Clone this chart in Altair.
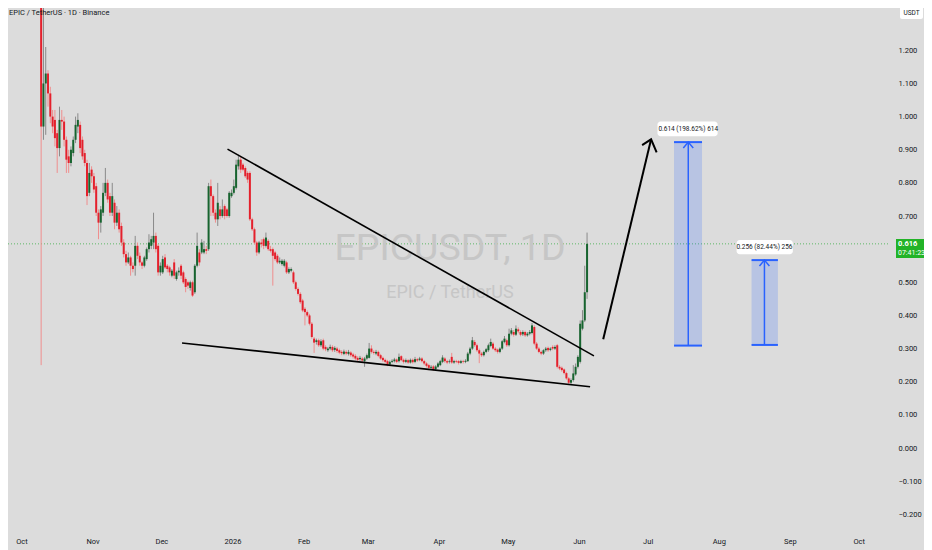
import pandas as pd
import altair as alt

# EPIC / TetherUS, 1D candles (Binance)
FIRST_DAY = "2025-10-09 14:00"

OPEN = [
    1.50, 0.97, 1.10, 1.13, 1.07, 1.00, 0.99, 0.95, 0.905, 0.99,
    0.985, 0.93, 0.88, 0.86, 0.89, 0.93, 0.97, 0.975, 0.93, 0.89,
    0.86, 0.77, 0.84, 0.82, 0.79, 0.71, 0.68, 0.71, 0.77, 0.80,
    0.76, 0.71, 0.74, 0.68, 0.71, 0.67, 0.62, 0.585, 0.56, 0.575,
    0.55, 0.55, 0.61, 0.58, 0.56, 0.55, 0.57, 0.60, 0.61, 0.62,
    0.64, 0.61, 0.53, 0.53, 0.575, 0.55, 0.545, 0.52, 0.56, 0.51,
    0.53, 0.55, 0.53, 0.51, 0.50, 0.483, 0.50, 0.47, 0.55, 0.59,
    0.59, 0.59, 0.60, 0.60, 0.79, 0.76, 0.71, 0.69, 0.72, 0.70,
    0.73, 0.72, 0.70, 0.76, 0.77, 0.785, 0.85, 0.87, 0.855, 0.845,
    0.83, 0.83, 0.69, 0.66, 0.62, 0.59, 0.62, 0.63, 0.61, 0.625,
    0.60, 0.60, 0.59, 0.58, 0.56, 0.555, 0.55, 0.56, 0.53, 0.535,
    0.53, 0.50, 0.48, 0.465, 0.445, 0.42, 0.41, 0.40, 0.375, 0.33,
    0.32, 0.325, 0.31, 0.325, 0.305, 0.295, 0.30, 0.305, 0.296, 0.30,
    0.295, 0.29, 0.284, 0.29, 0.284, 0.288, 0.282, 0.278, 0.272, 0.268,
    0.27, 0.262, 0.27, 0.272, 0.30, 0.29, 0.285, 0.29, 0.28, 0.272,
    0.266, 0.262, 0.252, 0.26, 0.262, 0.267, 0.262, 0.277, 0.266, 0.26,
    0.265, 0.258, 0.266, 0.26, 0.268, 0.266, 0.27, 0.262, 0.255, 0.25,
    0.242, 0.246, 0.238, 0.245, 0.25, 0.26, 0.27, 0.262, 0.26, 0.275,
    0.258, 0.262, 0.262, 0.257, 0.262, 0.26, 0.262, 0.285, 0.30, 0.32,
    0.31, 0.295, 0.285, 0.28, 0.29, 0.295, 0.308, 0.315, 0.30, 0.297,
    0.29, 0.30, 0.32, 0.325, 0.31, 0.345, 0.35, 0.342, 0.358, 0.35,
    0.343, 0.35, 0.34, 0.345, 0.347, 0.365, 0.315, 0.30, 0.29, 0.285,
    0.295, 0.302, 0.296, 0.305, 0.30, 0.31, 0.245, 0.242, 0.237, 0.226,
    0.21, 0.197, 0.205, 0.222, 0.245, 0.26, 0.36, 0.385, 0.47,
]
HIGH = [
    1.60, 1.40, 1.21, 1.14, 1.09, 1.02, 1.02, 0.96, 1.03, 1.02,
    1.00, 0.94, 0.90, 0.91, 0.94, 1.00, 1.01, 0.985, 0.94, 0.90,
    0.87, 0.86, 0.85, 0.83, 0.80, 0.72, 0.73, 0.80, 0.845, 0.81,
    0.77, 0.80, 0.75, 0.73, 0.72, 0.68, 0.63, 0.595, 0.59, 0.58,
    0.56, 0.64, 0.62, 0.59, 0.565, 0.58, 0.605, 0.645, 0.64, 0.71,
    0.65, 0.615, 0.56, 0.58, 0.585, 0.555, 0.55, 0.54, 0.57, 0.535,
    0.545, 0.555, 0.535, 0.515, 0.505, 0.505, 0.505, 0.555, 0.65, 0.60,
    0.63, 0.625, 0.61, 0.80, 0.81, 0.765, 0.72, 0.80, 0.73, 0.75,
    0.735, 0.725, 0.775, 0.78, 0.81, 0.87, 0.885, 0.88, 0.86, 0.85,
    0.835, 0.835, 0.695, 0.665, 0.625, 0.625, 0.63, 0.635, 0.65, 0.63,
    0.61, 0.605, 0.595, 0.585, 0.575, 0.57, 0.57, 0.565, 0.545, 0.545,
    0.535, 0.505, 0.485, 0.47, 0.45, 0.425, 0.415, 0.405, 0.38, 0.335,
    0.33, 0.33, 0.328, 0.33, 0.31, 0.305, 0.312, 0.31, 0.307, 0.305,
    0.30, 0.295, 0.297, 0.295, 0.296, 0.292, 0.287, 0.283, 0.277, 0.278,
    0.275, 0.275, 0.285, 0.317, 0.31, 0.295, 0.296, 0.294, 0.284, 0.276,
    0.27, 0.266, 0.264, 0.268, 0.272, 0.27, 0.285, 0.28, 0.27, 0.27,
    0.268, 0.27, 0.27, 0.275, 0.272, 0.275, 0.274, 0.266, 0.259, 0.254,
    0.25, 0.25, 0.25, 0.259, 0.266, 0.28, 0.274, 0.266, 0.267, 0.287,
    0.266, 0.266, 0.265, 0.266, 0.266, 0.268, 0.29, 0.305, 0.335, 0.326,
    0.315, 0.30, 0.29, 0.294, 0.302, 0.315, 0.33, 0.32, 0.305, 0.30,
    0.304, 0.326, 0.338, 0.33, 0.36, 0.362, 0.356, 0.37, 0.364, 0.355,
    0.355, 0.354, 0.35, 0.356, 0.377, 0.37, 0.32, 0.305, 0.294, 0.298,
    0.305, 0.306, 0.304, 0.31, 0.31, 0.314, 0.25, 0.246, 0.24, 0.23,
    0.214, 0.21, 0.25, 0.255, 0.28, 0.385, 0.416, 0.55, 0.65,
]
LOW = [
    0.25, 0.93, 0.945, 1.03, 0.98, 0.95, 0.91, 0.83, 0.88, 0.96,
    0.91, 0.83, 0.83, 0.85, 0.88, 0.92, 0.95, 0.89, 0.87, 0.85,
    0.733, 0.76, 0.80, 0.77, 0.70, 0.63, 0.65, 0.70, 0.76, 0.74,
    0.70, 0.70, 0.66, 0.67, 0.65, 0.61, 0.575, 0.55, 0.555, 0.52,
    0.53, 0.52, 0.57, 0.55, 0.54, 0.545, 0.565, 0.59, 0.60, 0.60,
    0.59, 0.52, 0.52, 0.525, 0.54, 0.53, 0.52, 0.515, 0.51, 0.505,
    0.52, 0.51, 0.495, 0.47, 0.48, 0.475, 0.456, 0.465, 0.545, 0.55,
    0.585, 0.585, 0.585, 0.595, 0.70, 0.70, 0.68, 0.67, 0.69, 0.695,
    0.69, 0.695, 0.695, 0.755, 0.765, 0.78, 0.84, 0.83, 0.835, 0.815,
    0.80, 0.685, 0.655, 0.615, 0.58, 0.585, 0.605, 0.60, 0.605, 0.595,
    0.59, 0.49, 0.565, 0.555, 0.555, 0.55, 0.545, 0.525, 0.525, 0.53,
    0.495, 0.475, 0.46, 0.435, 0.41, 0.37, 0.395, 0.37, 0.33, 0.287,
    0.312, 0.305, 0.305, 0.295, 0.292, 0.29, 0.295, 0.29, 0.29, 0.287,
    0.283, 0.28, 0.28, 0.28, 0.279, 0.275, 0.27, 0.265, 0.262, 0.263,
    0.258, 0.245, 0.266, 0.27, 0.285, 0.282, 0.28, 0.274, 0.266, 0.26,
    0.255, 0.247, 0.248, 0.256, 0.258, 0.256, 0.258, 0.262, 0.255, 0.256,
    0.254, 0.255, 0.255, 0.256, 0.26, 0.262, 0.258, 0.25, 0.243, 0.235,
    0.238, 0.233, 0.234, 0.241, 0.247, 0.256, 0.257, 0.253, 0.255, 0.254,
    0.254, 0.256, 0.252, 0.254, 0.255, 0.256, 0.26, 0.28, 0.296, 0.305,
    0.29, 0.256, 0.275, 0.276, 0.286, 0.29, 0.304, 0.296, 0.29, 0.285,
    0.286, 0.296, 0.316, 0.305, 0.306, 0.34, 0.336, 0.338, 0.346, 0.337,
    0.338, 0.335, 0.336, 0.34, 0.343, 0.31, 0.296, 0.286, 0.28, 0.281,
    0.29, 0.29, 0.292, 0.295, 0.296, 0.24, 0.235, 0.23, 0.222, 0.206,
    0.19, 0.19, 0.20, 0.218, 0.24, 0.255, 0.355, 0.38, 0.45,
]
CLOSE = [
    0.97, 1.10, 1.13, 1.07, 1.00, 0.97, 0.935, 0.905, 0.99, 0.985,
    0.93, 0.87, 0.86, 0.90, 0.93, 0.975, 0.99, 0.905, 0.88, 0.86,
    0.76, 0.83, 0.82, 0.78, 0.71, 0.68, 0.72, 0.77, 0.80, 0.75,
    0.71, 0.76, 0.68, 0.71, 0.66, 0.62, 0.585, 0.56, 0.575, 0.55,
    0.54, 0.61, 0.58, 0.56, 0.55, 0.575, 0.60, 0.62, 0.63, 0.64,
    0.60, 0.53, 0.55, 0.57, 0.545, 0.54, 0.53, 0.535, 0.52, 0.53,
    0.535, 0.52, 0.50, 0.486, 0.49, 0.50, 0.46, 0.55, 0.61, 0.56,
    0.62, 0.60, 0.595, 0.79, 0.76, 0.71, 0.69, 0.74, 0.70, 0.72,
    0.70, 0.70, 0.77, 0.77, 0.79, 0.855, 0.87, 0.84, 0.84, 0.82,
    0.81, 0.69, 0.66, 0.62, 0.59, 0.62, 0.615, 0.61, 0.635, 0.60,
    0.595, 0.58, 0.57, 0.56, 0.565, 0.565, 0.565, 0.53, 0.54, 0.54,
    0.50, 0.48, 0.465, 0.44, 0.415, 0.41, 0.40, 0.375, 0.335, 0.318,
    0.325, 0.31, 0.322, 0.30, 0.298, 0.30, 0.305, 0.295, 0.302, 0.293,
    0.288, 0.286, 0.291, 0.285, 0.29, 0.28, 0.276, 0.27, 0.266, 0.272,
    0.264, 0.27, 0.28, 0.30, 0.29, 0.287, 0.29, 0.278, 0.27, 0.265,
    0.26, 0.252, 0.26, 0.263, 0.267, 0.26, 0.275, 0.265, 0.26, 0.265,
    0.258, 0.266, 0.259, 0.268, 0.264, 0.27, 0.262, 0.255, 0.248, 0.242,
    0.245, 0.238, 0.246, 0.255, 0.262, 0.273, 0.262, 0.258, 0.262, 0.258,
    0.262, 0.26, 0.257, 0.262, 0.26, 0.263, 0.285, 0.30, 0.325, 0.31,
    0.295, 0.285, 0.28, 0.29, 0.298, 0.31, 0.32, 0.30, 0.295, 0.29,
    0.30, 0.322, 0.33, 0.31, 0.345, 0.355, 0.342, 0.36, 0.352, 0.342,
    0.35, 0.34, 0.345, 0.35, 0.37, 0.315, 0.30, 0.29, 0.285, 0.295,
    0.30, 0.295, 0.30, 0.30, 0.305, 0.245, 0.24, 0.235, 0.226, 0.21,
    0.197, 0.205, 0.225, 0.245, 0.275, 0.375, 0.385, 0.47, 0.616,
]

LAST_PRICE = 0.616
LAST_PRICE_TEXT = "0.616"
COUNTDOWN = "07:41:23"

MONTH_TICKS = [
    "2025-10-01", "2025-11-01", "2025-12-01", "2026-01-01", "2026-02-01",
    "2026-03-01", "2026-04-01", "2026-05-01", "2026-06-01", "2026-07-01",
    "2026-08-01", "2026-09-01", "2026-10-01",
]
PRICE_TICKS = [-0.2, -0.1, 0.0, 0.1, 0.2, 0.3, 0.4, 0.5, 0.7, 0.8, 0.9, 1.0, 1.1, 1.2]

# falling wedge drawn over the candles
WEDGE_NAME = ["upper", "upper", "lower", "lower"]
WEDGE_T = ["2025-12-29 20:00", "2026-06-07 14:00", "2025-12-10 00:00", "2026-06-05 22:00"]
WEDGE_P = [0.902, 0.278, 0.317, 0.185]

# breakout arrow
ARROW_PART = ["shaft", "shaft", "head", "head", "head"]
ARROW_T = ["2026-06-11 15:00", "2026-07-02 12:00", "2026-06-28 14:00", "2026-07-02 12:00", "2026-07-04 22:00"]
ARROW_P = [0.328, 0.9315, 0.914, 0.9315, 0.892]

# price range projections
PROJ_START = ["2026-07-12 12:00", "2026-08-15 07:00"]
PROJ_END = ["2026-07-24 17:00", "2026-08-26 19:00"]
PROJ_MID = ["2026-07-18 17:00", "2026-08-20 22:00"]
PROJ_LOW = [0.309, 0.311]
PROJ_HIGH = [0.923, 0.567]
PROJ_LABEL = ["0.614 (198.62%) 614", "0.256 (82.44%) 256"]
LABEL_T0 = ["2026-07-05 07:00", "2026-08-08 19:00"]
LABEL_T1 = ["2026-07-31 12:00", "2026-09-02 07:00"]
LABEL_LOW = [0.941, 0.585]
LABEL_HIGH = [0.985, 0.628]
LABEL_MID = [0.963, 0.6065]
# arrow heads on top of the projection ranges
HEAD_ID = [0, 0, 0, 1, 1, 1]
HEAD_T = ["2026-07-16 13:00", "2026-07-18 17:00", "2026-07-20 21:00",
          "2026-08-18 18:00", "2026-08-20 22:00", "2026-08-23 02:00"]
HEAD_P = [0.905, 0.923, 0.905, 0.549, 0.567, 0.549]

BG = "#dcdcdc"
UP, DOWN = "#17642f", "#e4202c"
WICK_UP, WICK_DOWN = "#8a8a8a", "#ef8e8e"
BLUE = "#2962ff"
INK = "#131722"
FONT = "Roboto"


def ms(s):
    return int(pd.Timestamp(s, tz="UTC").value // 10**6)


times = pd.date_range(FIRST_DAY, periods=len(CLOSE), freq="D", tz="UTC").asi8 // 10**6
candles = pd.DataFrame({
    "t": times, "open": OPEN, "high": HIGH, "low": LOW, "close": CLOSE,
})
candles["dir"] = ["up" if c >= o else "down" for o, c in zip(OPEN, CLOSE)]

wedge = pd.DataFrame({"name": WEDGE_NAME, "t": [ms(s) for s in WEDGE_T], "p": WEDGE_P,
                      "seq": list(range(len(WEDGE_P)))})
arrow = pd.DataFrame({"part": ARROW_PART, "t": [ms(s) for s in ARROW_T], "p": ARROW_P,
                      "seq": list(range(len(ARROW_P)))})
proj = pd.DataFrame({
    "t0": [ms(s) for s in PROJ_START], "t1": [ms(s) for s in PROJ_END],
    "tm": [ms(s) for s in PROJ_MID], "lo": PROJ_LOW, "hi": PROJ_HIGH,
    "label": PROJ_LABEL, "lt0": [ms(s) for s in LABEL_T0], "lt1": [ms(s) for s in LABEL_T1],
    "llo": LABEL_LOW, "lhi": LABEL_HIGH, "lmid": LABEL_MID,
})
heads = pd.DataFrame({"id": HEAD_ID, "t": [ms(s) for s in HEAD_T], "p": HEAD_P,
                      "seq": list(range(len(HEAD_P)))})

XS = alt.Scale(type="utc", domain=[ms("2025-09-27 07:30"), ms("2026-10-11 14:30")], nice=False)
YS = alt.Scale(domain=[-0.2414, 1.3277], nice=False, zero=False)
XAX = alt.Axis(
    values=[ms(m) for m in MONTH_TICKS],
    labelExpr="utcFormat(datum.value, '%m') == '01' ? utcFormat(datum.value, '%Y') : utcFormat(datum.value, '%b')",
    grid=False, ticks=False, domain=False, title=None,
    labelPadding=9, labelFontSize=7.5, labelColor=INK, labelFont=FONT,
    labelFlush=False, labelOverlap=False,
)
YAX = alt.Axis(
    orient="right", values=PRICE_TICKS, format=".3f",
    grid=False, ticks=False, domain=False, title=None,
    labelAlign="left", labelBaseline="middle", labelPadding=10,
    labelFontSize=7.5, labelColor=INK, labelFont=FONT,
    labelFlush=False, labelOverlap=False,
)


def X(field):
    return alt.X(field, type="temporal", scale=XS, axis=XAX)


def Y(field):
    return alt.Y(field, type="quantitative", scale=YS, axis=YAX)


price_line = alt.Chart(pd.DataFrame({"p": [LAST_PRICE]})).mark_rule(
    color="#3fae49", strokeDash=[1, 2], strokeWidth=1, opacity=0.8
).encode(y=Y("p"))

watermark = alt.Chart(pd.DataFrame({"a": ["EPICUSDT, 1D"], "b": ["EPIC / TetherUS"]}))
wm_big = watermark.mark_text(font=FONT, fontSize=37.5, color="#c6c6c6", baseline="alphabetic").encode(
    text="a:N", x=alt.value(442), y=alt.value(252))
wm_small = watermark.mark_text(font=FONT, fontSize=18, color="#c6c6c6", baseline="alphabetic").encode(
    text="b:N", x=alt.value(442), y=alt.value(290))

# wicks and bodies get their own colour scales (resolved independently below)
wicks = alt.Chart(candles).mark_rule(strokeWidth=1, clip=True).encode(
    x=X("t"), y=Y("low"), y2="high",
    color=alt.Color("dir:N", scale=alt.Scale(domain=["up", "down"], range=[WICK_UP, WICK_DOWN]), legend=None))
bodies = alt.Chart(candles).mark_bar(size=2, clip=True).encode(
    x=X("t"), y=Y("open"), y2="close",
    color=alt.Color("dir:N", scale=alt.Scale(domain=["up", "down"], range=[UP, DOWN]), legend=None))

wedge_lines = alt.Chart(wedge).mark_line(color="#000000", strokeWidth=1.6).encode(
    x=X("t"), y=Y("p"), detail="name:N", order="seq:Q")
arrow_lines = alt.Chart(arrow).mark_line(color="#000000", strokeWidth=2).encode(
    x=X("t"), y=Y("p"), detail="part:N", order="seq:Q")

proj_base = alt.Chart(proj)
proj_fill = proj_base.mark_rect(color=BLUE, opacity=0.2).encode(
    x=X("t0"), x2="t1", y=Y("lo"), y2="hi")
proj_top = proj_base.mark_rule(color=BLUE, strokeWidth=2).encode(x=X("t0"), x2="t1", y=Y("hi"))
proj_bottom = proj_base.mark_rule(color=BLUE, strokeWidth=2).encode(x=X("t0"), x2="t1", y=Y("lo"))
proj_mid = proj_base.mark_rule(color=BLUE, strokeWidth=1.5).encode(x=X("tm"), y=Y("lo"), y2="hi")
proj_heads = alt.Chart(heads).mark_line(color=BLUE, strokeWidth=1.5).encode(
    x=X("t"), y=Y("p"), detail="id:N", order="seq:Q")
label_box = proj_base.mark_rect(color="#ffffff", cornerRadius=3).encode(
    x=X("lt0"), x2="lt1", y=Y("llo"), y2="lhi")
label_text = proj_base.mark_text(font=FONT, fontSize=6.5, color=INK, baseline="middle").encode(
    x=X("tm"), y=Y("lmid"), text="label:N")

# chart header, currency box and last price tag on the price scale
header = alt.Chart(pd.DataFrame({"s": ["EPIC / TetherUS · 1D · Binance"]})).mark_text(
    font=FONT, fontSize=7.5, color=INK, align="left", baseline="middle"
).encode(text="s:N", x=alt.value(1), y=alt.value(5))
usdt_box = alt.Chart(pd.DataFrame({"s": ["USDT"]})).mark_rect(color="#ffffff", cornerRadius=2).encode(
    x=alt.value(892), x2=alt.value(915), y=alt.value(-4), y2=alt.value(11))
usdt_text = alt.Chart(pd.DataFrame({"s": ["USDT"]})).mark_text(
    font=FONT, fontSize=6.5, color=INK, baseline="middle"
).encode(text="s:N", x=alt.value(903.5), y=alt.value(4.5))
tag = pd.DataFrame({"price": [LAST_PRICE_TEXT], "timer": [COUNTDOWN]})
tag_box = alt.Chart(tag).mark_rect(color="#22b327").encode(
    x=alt.value(888), x2=alt.value(916), y=alt.value(231), y2=alt.value(250))
tag_price = alt.Chart(tag).mark_text(font=FONT, fontSize=7.5, color="#ffffff", align="left",
                                     baseline="middle", fontWeight="bold").encode(
    text="price:N", x=alt.value(890), y=alt.value(236))
tag_timer = alt.Chart(tag).mark_text(font=FONT, fontSize=7, color="#ffffff", align="left",
                                     baseline="middle").encode(
    text="timer:N", x=alt.value(890), y=alt.value(245))

chart = alt.layer(
    price_line, wm_big, wm_small,
    proj_fill, wicks, bodies, wedge_lines, arrow_lines,
    proj_top, proj_bottom, proj_mid, proj_heads, label_box, label_text,
    header, usdt_box, usdt_text, tag_box, tag_price, tag_timer,
).resolve_scale(
    color="independent"
).properties(
    width=880, height=520,
    autosize=alt.AutoSizeParams(type="none"),
    padding={"left": 0, "top": 0, "right": 36, "bottom": 22},
    background=BG,
).configure_view(strokeWidth=0)

chart.save("out.html", embed_options={"renderer": "svg", "actions": False})
